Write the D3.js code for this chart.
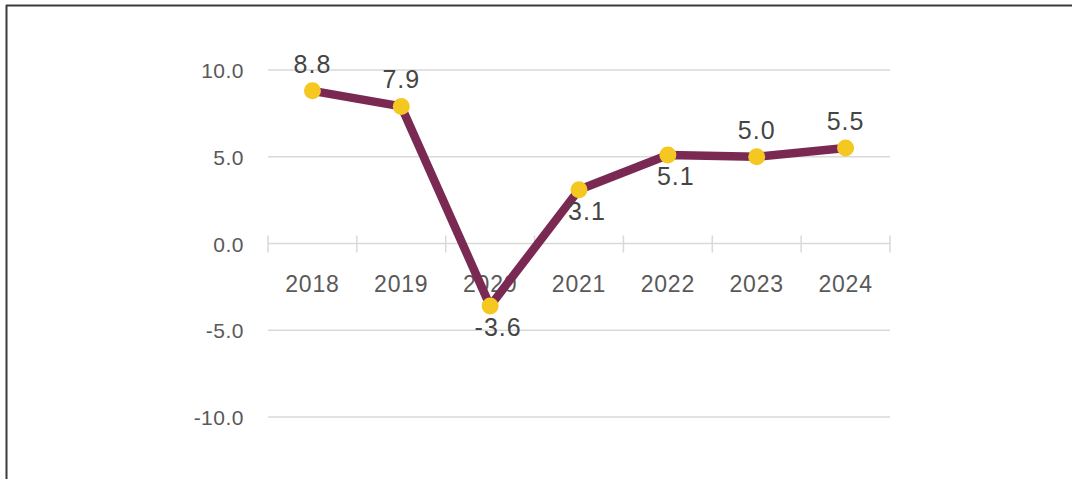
<!DOCTYPE html>
<html><head><meta charset="utf-8">
<script src="https://cdn.jsdelivr.net/npm/d3@7"></script>
<style>html,body{margin:0;padding:0;background:#fff;}svg{display:block;}</style>
</head><body>
<svg id="c" width="1072" height="479"></svg>
<script>
const years = ["2018","2019","2020","2021","2022","2023","2024"];
const values = [8.8, 7.9, -3.6, 3.1, 5.1, 5.0, 5.5];
const labelPos = ["above","above","below","below","below","above","above"];
const yTicks = [-10, -5, 0, 5, 10];

const fmt = v => d3.format(".1f")(v).replace("\u2212","-");
const svg = d3.select("#c");
const W = 1072, H = 479;
svg.append("line").attr("x1",6).attr("x2",W).attr("y1",5.5).attr("y2",5.5).attr("stroke","#3a3a3a").attr("stroke-width",2);
svg.append("line").attr("x1",6.5).attr("x2",6.5).attr("y1",5).attr("y2",H).attr("stroke","#3a3a3a").attr("stroke-width",2);

const x = d3.scaleBand().domain(years).range([268, 890]).paddingInner(0).paddingOuter(0);
const y = d3.scaleLinear().domain([-10, 10]).range([417, 70]);

svg.append("g").selectAll("line").data(yTicks.filter(t=>t!==0)).join("line")
  .attr("x1",268).attr("x2",890).attr("y1",d=>y(d)).attr("y2",d=>y(d))
  .attr("stroke","#d9d9d9").attr("stroke-width",1.5);

svg.append("g").selectAll("text").data(yTicks).join("text")
  .attr("x",244).attr("y",d=>y(d)+8).attr("text-anchor","end")
  .attr("font-family","Liberation Sans, Arial, sans-serif").attr("font-size",21)
  .attr("fill","#595959").attr("letter-spacing",0.5)
  .text(d=>fmt(d));

const y0 = y(0);
svg.append("line").attr("x1",268).attr("x2",890).attr("y1",y0).attr("y2",y0)
  .attr("stroke","#d9d9d9").attr("stroke-width",1.5);
const tickXs = years.map(d=>x(d)).concat([x(years[years.length-1])+x.bandwidth()]);
svg.append("g").selectAll("line").data(tickXs).join("line")
  .attr("x1",d=>d).attr("x2",d=>d).attr("y1",y0-8).attr("y2",y0+9)
  .attr("stroke","#d9d9d9").attr("stroke-width",1.5);

svg.append("g").selectAll("text").data(years).join("text")
  .attr("x",d=>x(d)+x.bandwidth()/2).attr("y",292).attr("text-anchor","middle")
  .attr("font-family","Liberation Sans, Arial, sans-serif").attr("font-size",23)
  .attr("fill","#595959").attr("letter-spacing",0.8)
  .text(d=>d);

const cx = (d,i)=>x(years[i])+x.bandwidth()/2;
const line = d3.line().x((d,i)=>cx(d,i)).y(d=>y(d));
svg.append("path").datum(values).attr("d",line).attr("fill","none")
  .attr("stroke","#7a2a52").attr("stroke-width",8.5).attr("stroke-linejoin","round");

svg.append("g").selectAll("circle").data(values).join("circle")
  .attr("cx",(d,i)=>cx(d,i)).attr("cy",d=>y(d)).attr("r",8.5)
  .attr("fill","#f4c820");

svg.append("g").selectAll("text").data(values).join("text")
  .attr("x",(d,i)=>labelPos[i]==="above" ? cx(d,i) : cx(d,i)+8)
  .attr("y",(d,i)=>labelPos[i]==="above" ? y(d)-18 : y(d)+30)
  .attr("text-anchor","middle")
  .attr("font-family","Liberation Sans, Arial, sans-serif").attr("font-size",25)
  .attr("fill","#454545").attr("letter-spacing",1)
  .text(d=>fmt(d));
</script>
</body></html>
